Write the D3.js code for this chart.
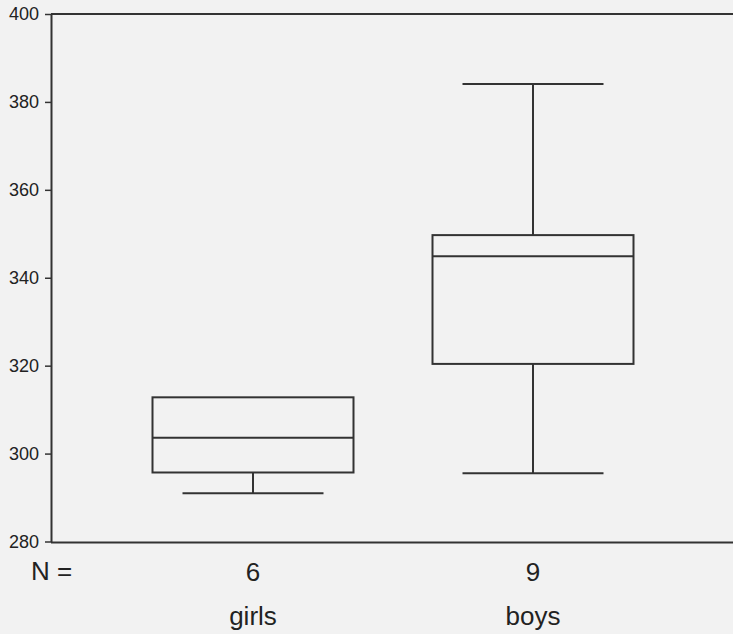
<!doctype html>
<html>
  <head>
    <script src="https://cdn.jsdelivr.net/npm/d3@7"></script>
    <style>
      body { margin: 0; background: #f2f2f2; }
      text { font-family: "Liberation Sans", Arial, sans-serif; fill: #222; }
    </style>
  </head>
  <body>
    <svg id="chart" width="733" height="634"></svg>

    <script>
      // box plot summaries
      var groups   = ["girls", "boys"];
      var counts   = [6, 9];
      var lowWhisk = [291, 295.5];
      var q1       = [295.7, 320.4];
      var medians  = [303.6, 344.9];
      var q3       = [312.8, 349.7];
      var highWhisk = [312.8, 384.1];
      var yTicks   = [280, 300, 320, 340, 360, 380, 400];

      var svg = d3.select("#chart");
      var plotLeft = 51, plotRight = 733, plotTop = 14, plotBottom = 541.5;

      var y = d3.scaleLinear().domain([280, 400]).range([plotBottom, plotTop]);
      var x = d3.scalePoint().domain(groups).range([113, 673]).padding(0.5);
      var boxW = 201, capW = 141;

      var stroke = "#333";

      // frame: top line and bottom axis line
      svg.append("line")
        .attr("x1", plotLeft).attr("x2", plotRight).attr("y1", plotTop).attr("y2", plotTop)
        .attr("stroke", stroke).attr("stroke-width", 2);
      svg.append("line")
        .attr("x1", plotLeft).attr("x2", plotRight).attr("y1", plotBottom + 1).attr("y2", plotBottom + 1)
        .attr("stroke", stroke).attr("stroke-width", 2);

      // y axis
      var yAxis = d3.axisLeft(y).tickValues(yTicks).tickSize(6).tickPadding(6).tickSizeOuter(0);
      var ga = svg.append("g").attr("transform", "translate(" + plotLeft + ",0)").call(yAxis);
      ga.select(".domain").attr("stroke", stroke).attr("stroke-width", 2);
      ga.selectAll(".tick line").attr("stroke", stroke).attr("stroke-width", 1.5);
      ga.selectAll(".tick text")
        .attr("font-size", 18).attr("font-family", "Liberation Sans, Arial, sans-serif")
        .attr("fill", "#222");

      var data = groups.map(function(g, i) {
        return { name: g, n: counts[i], lo: lowWhisk[i], q1: q1[i], med: medians[i], q3: q3[i], hi: highWhisk[i] };
      });

      var box = svg.selectAll("g.box").data(data).enter().append("g").attr("class", "box");

      // whisker stems
      box.append("line")
        .attr("x1", function(d) { return x(d.name); })
        .attr("x2", function(d) { return x(d.name); })
        .attr("y1", function(d) { return y(d.lo); })
        .attr("y2", function(d) { return y(d.q1); })
        .attr("stroke", stroke).attr("stroke-width", 2);
      box.append("line")
        .attr("x1", function(d) { return x(d.name); })
        .attr("x2", function(d) { return x(d.name); })
        .attr("y1", function(d) { return y(d.q3); })
        .attr("y2", function(d) { return y(d.hi); })
        .attr("stroke", stroke).attr("stroke-width", 2);

      // whisker caps
      box.append("line")
        .attr("x1", function(d) { return x(d.name) - capW / 2; })
        .attr("x2", function(d) { return x(d.name) + capW / 2; })
        .attr("y1", function(d) { return y(d.lo); })
        .attr("y2", function(d) { return y(d.lo); })
        .attr("stroke", stroke).attr("stroke-width", 2);
      box.filter(function(d) { return d.hi > d.q3; }).append("line")
        .attr("x1", function(d) { return x(d.name) - capW / 2; })
        .attr("x2", function(d) { return x(d.name) + capW / 2; })
        .attr("y1", function(d) { return y(d.hi); })
        .attr("y2", function(d) { return y(d.hi); })
        .attr("stroke", stroke).attr("stroke-width", 2);

      // boxes
      box.append("rect")
        .attr("x", function(d) { return x(d.name) - boxW / 2; })
        .attr("width", boxW)
        .attr("y", function(d) { return y(d.q3); })
        .attr("height", function(d) { return y(d.q1) - y(d.q3); })
        .attr("fill", "none").attr("stroke", stroke).attr("stroke-width", 2);

      // medians
      box.append("line")
        .attr("x1", function(d) { return x(d.name) - boxW / 2; })
        .attr("x2", function(d) { return x(d.name) + boxW / 2; })
        .attr("y1", function(d) { return y(d.med); })
        .attr("y2", function(d) { return y(d.med); })
        .attr("stroke", stroke).attr("stroke-width", 2);

      // N labels and category names
      svg.append("text").attr("x", 31).attr("y", 580).attr("font-size", 26).text("N =");
      box.append("text")
        .attr("x", function(d) { return x(d.name); })
        .attr("y", 581).attr("text-anchor", "middle").attr("font-size", 26)
        .text(function(d) { return d.n; });
      box.append("text")
        .attr("x", function(d) { return x(d.name); })
        .attr("y", 625).attr("text-anchor", "middle").attr("font-size", 26)
        .text(function(d) { return d.name; });
    </script>
  </body>
</html>
